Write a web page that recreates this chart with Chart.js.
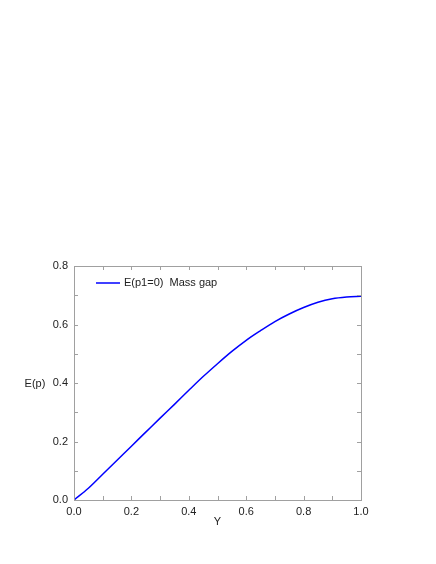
<!DOCTYPE html>
<html>
<head>
<meta charset="utf-8">
<script src="https://cdn.jsdelivr.net/npm/chart.js@4"></script>
<style>
  html, body { margin: 0; padding: 0; background: #fff; }
  #wrap { width: 436px; height: 564px; }
</style>
</head>
<body>
<div id="wrap"><canvas id="chart"></canvas></div>
<script>
// values
const yValues = [0, 0.05, 0.1, 0.15, 0.2, 0.25, 0.3, 0.35, 0.4, 0.45, 0.5,
  0.55, 0.6, 0.65, 0.7, 0.75, 0.8, 0.85, 0.9, 0.95, 1.0];
const massGap = [0, 0.040, 0.088, 0.136, 0.184, 0.232, 0.280, 0.327, 0.375, 0.422, 0.466,
  0.508, 0.546, 0.579, 0.610, 0.636, 0.658, 0.676, 0.688, 0.694, 0.697];
const seriesLabel = 'E(p1=0)  Mass gap';
const xTitle = 'Y';
const yTitle = 'E(p)';

const FONT = '"Liberation Sans", Arial, sans-serif';
const frameColor = '#a0a0a0';
const textColor = '#222';

const showEven = v => (Math.round(v * 10) % 2 === 0 ? v.toFixed(1) : '');

// frame, inward ticks on all four sides, legend and horizontal y title
const framePlugin = {
  id: 'frame',
  afterDatasetsDraw(chart) {
    const { ctx, chartArea: a, scales } = chart;
    ctx.save();
    ctx.strokeStyle = frameColor;
    ctx.lineWidth = 1;
    ctx.strokeRect(a.left + 0.5, a.top + 0.5, a.right - a.left, a.bottom - a.top);
    ctx.beginPath();
    scales.x.ticks.forEach(t => {
      const px = Math.round(scales.x.getPixelForValue(t.value)) + 0.5;
      ctx.moveTo(px, a.bottom); ctx.lineTo(px, a.bottom - 4);
      ctx.moveTo(px, a.top); ctx.lineTo(px, a.top + 4);
    });
    scales.y.ticks.forEach(t => {
      const py = Math.round(scales.y.getPixelForValue(t.value)) + 0.5;
      ctx.moveTo(a.left, py); ctx.lineTo(a.left + 4, py);
      ctx.moveTo(a.right, py); ctx.lineTo(a.right - 4, py);
    });
    ctx.stroke();

    // legend
    const ds = chart.data.datasets[0];
    ctx.strokeStyle = ds.borderColor;
    ctx.lineWidth = ds.borderWidth;
    ctx.beginPath();
    ctx.moveTo(a.left + 22, a.top + 17);
    ctx.lineTo(a.left + 46, a.top + 17);
    ctx.stroke();
    ctx.fillStyle = textColor;
    ctx.font = '11px ' + FONT;
    ctx.textBaseline = 'middle';
    ctx.textAlign = 'left';
    ctx.fillText(ds.label, a.left + 50, a.top + 17);

    // y title, horizontal
    ctx.textAlign = 'center';
    ctx.fillText(yTitle, 35, (a.top + a.bottom) / 2 + 1);
    ctx.restore();
  }
};

new Chart(document.getElementById('chart'), {
  type: 'line',
  data: {
    datasets: [
      {
        label: seriesLabel,
        data: yValues.map((x, i) => ({ x: x, y: massGap[i] })),
        borderColor: '#0000ff',
        borderWidth: 1.5,
        pointRadius: 0,
        cubicInterpolationMode: 'monotone',
        fill: false,
      },
    ],
  },
  options: {
    responsive: true,
    maintainAspectRatio: false,
    animation: false,
    layout: { padding: { left: 0, top: 266, right: 75, bottom: 31 } },
    plugins: { legend: { display: false }, tooltip: { enabled: false } },
    scales: {
      x: {
        type: 'linear',
        min: 0,
        max: 1,
        grid: { display: false, drawTicks: false },
        border: { display: false },
        ticks: { stepSize: 0.1, padding: 5, color: textColor, font: { family: FONT, size: 11 }, maxRotation: 0, autoSkip: false, callback: showEven },
        title: { display: true, text: xTitle, color: textColor, font: { family: FONT, size: 11 }, padding: 4 },
        afterFit: s => { s.height = 33; },
      },
      y: {
        min: 0,
        max: 0.8,
        grid: { display: false, drawTicks: false },
        border: { display: false },
        ticks: { stepSize: 0.1, padding: 6, color: textColor, font: { family: FONT, size: 11 }, autoSkip: false, callback: showEven },
        afterFit: s => { s.width = 74; },
      },
    },
  },
  plugins: [framePlugin],
});
</script>
</body>
</html>
